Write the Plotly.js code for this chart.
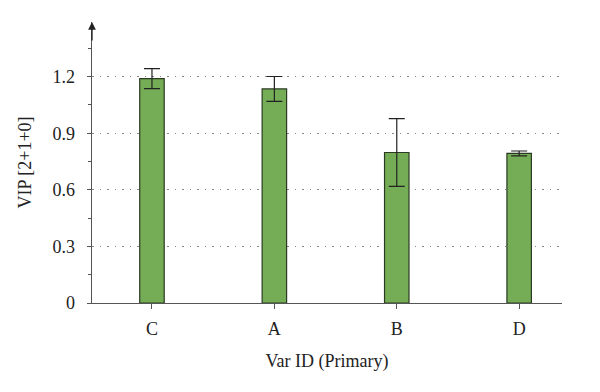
<!DOCTYPE html>
<html><head><meta charset="utf-8">
<script src="https://cdn.plot.ly/plotly-3.0.1.min.js"></script>
<style>html,body{margin:0;padding:0;background:#fff}#chart{width:600px;height:392px}</style>
</head><body><div id="chart"></div>
<script>
const categories = ['C', 'A', 'B', 'D'];
const vipValues = [1.19, 1.135, 0.798, 0.793];
const vipErrors = [0.053, 0.066, 0.18, 0.013];
const yTickVals = [0, 0.3, 0.6, 0.9, 1.2];
const yTickText = ['0', '0.3', '0.6', '0.9', '1.2'];

const font = 'Liberation Serif, DejaVu Serif, serif';
const trace = {
  type: 'bar', x: categories, y: vipValues,
  width: 0.2,
  marker: {color: '#74ad56', line: {color: '#2b3a22', width: 1.2}},
  error_y: {type: 'data', array: vipErrors, visible: true, color: '#222222', thickness: 1.2, width: 8},
  hoverinfo: 'skip'
};
const layout = {
  width: 600, height: 392,
  margin: {l: 92, r: 38, t: 22, b: 89},
  paper_bgcolor: '#fff', plot_bgcolor: '#fff',
  showlegend: false,
  font: {family: font, color: '#222', size: 18},
  xaxis: {
    range: [-0.49, 3.35], showline: true, linecolor: '#555', linewidth: 1.3,
    ticks: 'outside', ticklen: 5, tickcolor: '#555', showgrid: false, zeroline: false,
    ticklabelstandoff: 4,
    tickfont: {size: 18, family: font},
    title: {text: 'Var ID (Primary)', font: {size: 18, family: font}, standoff: 16}
  },
  yaxis: {
    range: [0, 1.49], showline: true, linecolor: '#555', linewidth: 1.3,
    tickvals: yTickVals, ticktext: yTickText,
    ticks: 'outside', ticklen: 4, tickcolor: '#555',
    minor: {dtick: 0.15, ticks: 'outside', ticklen: 3, tickcolor: '#555', showgrid: false},
    showgrid: true, gridcolor: '#888', griddash: '1.5px,6px', gridwidth: 1.2,
    zeroline: false, ticklabelstandoff: 8,
    tickfont: {size: 18, family: font},
    title: {text: 'VIP [2+1+0]', font: {size: 18, family: font}, standoff: 16}
  },
  annotations: [{
    xref: 'paper', yref: 'paper', x: 0, y: 1.0, ax: 0, ay: 20,
    axref: 'pixel', ayref: 'pixel', showarrow: true, arrowhead: 2, arrowsize: 1.2,
    arrowwidth: 1.3, arrowcolor: '#222', text: ''
  }]
};
Plotly.newPlot('chart', [trace], layout, {displayModeBar: false, staticPlot: true});
</script></body></html>
